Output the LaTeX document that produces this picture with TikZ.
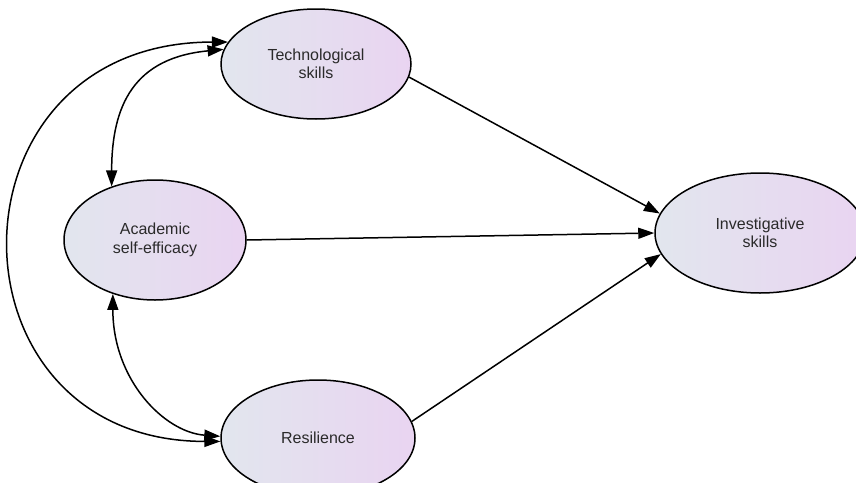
\documentclass[tikz,border=0pt]{standalone}
\usepackage{fontspec}
\setmainfont{Liberation Sans}
\usetikzlibrary{shapes.geometric,arrows.meta}
\definecolor{fillL}{HTML}{E2E6EE}
\definecolor{fillR}{HTML}{E9D4F1}
\definecolor{txt}{HTML}{2A2A2A}
\begin{document}
\begin{tikzpicture}[x=1pt,y=1pt,
  var/.style={ellipse, draw=black, line width=1.5pt, left color=fillL, right color=fillR,
    inner sep=0pt, align=center, text=txt, font=\fontsize{16}{18.5}\selectfont},
  link/.style={line width=1.5pt, -{Triangle[length=16pt,width=11pt]}},
  cov/.style={line width=1.5pt, {Triangle[length=16pt,width=11pt]}-{Triangle[length=16pt,width=11pt]}}]
\useasboundingbox (0,0) rectangle (856,-482);
\node[var, minimum width=190pt, minimum height=110pt] (T) at (316,-64) {Technological\\skills};
\node[var, minimum width=182pt, minimum height=120pt] (A) at (155,-240) {Academic\\self-efficacy};
\node[var, minimum width=194pt, minimum height=116pt] (R) at (318,-438) {Resilience};
\node[var, minimum width=210pt, minimum height=120pt] (I) at (760,-233) {Investigative\\skills};
% directed paths
\draw[link] (T.-8.5) -- (I.169);
\draw[link] (A.east) -- (I.west);
\draw[link] (R.10) -- (I.192);
% covariances
\draw[cov] (A.129) .. controls +(0,82) and +(-89,-8.5) .. (T.171);
\draw[cov] (R.182) .. controls +(-281,0) and +(-289,0) .. (T.166);
\draw[cov] (A.232) .. controls +(0,-86) and +(-56,4) .. (R.179);
\end{tikzpicture}
\end{document}
